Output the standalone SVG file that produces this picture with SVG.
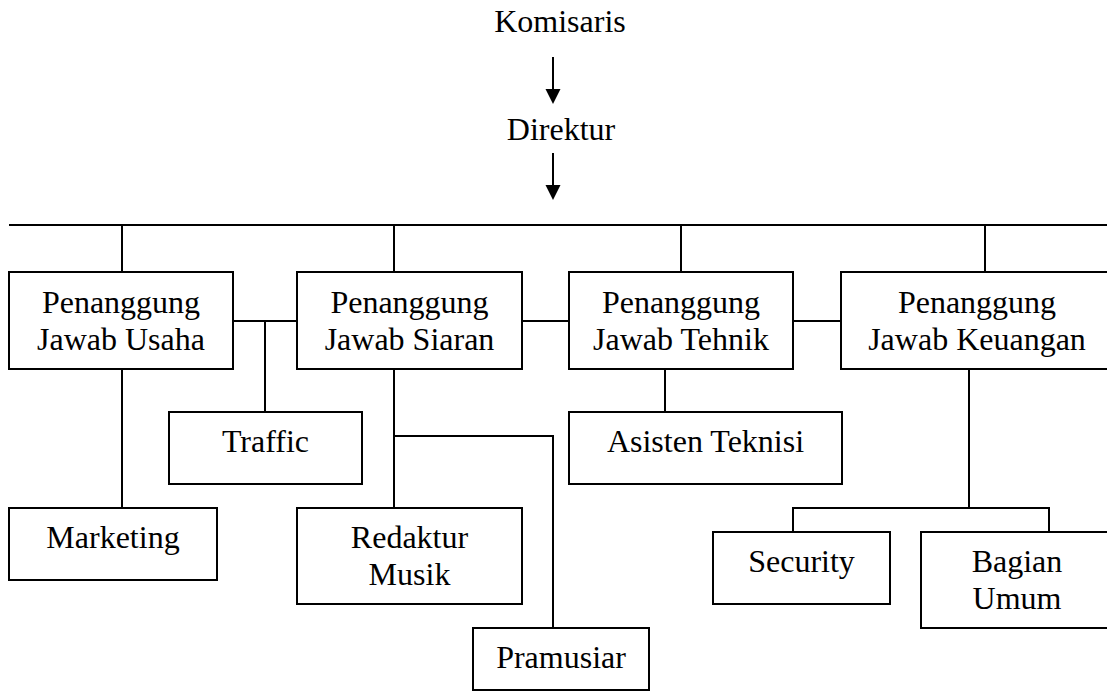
<svg xmlns="http://www.w3.org/2000/svg" width="1107" height="698" viewBox="0 0 1107 698">
<style>
.box{fill:#fff;stroke:#000;stroke-width:2}
.ln{fill:none;stroke:#000;stroke-width:2}
.head{fill:#000}
text{font-family:"Liberation Serif","Times New Roman",serif;font-size:32px;fill:#000;text-anchor:middle}
</style>
<rect width="1107" height="698" fill="#fff"/>
<g id="connectors">
<line class="ln" x1="553" y1="57" x2="553" y2="89"/>
<path class="head" d="M545.5,89 L560.5,89 L553,104 Z"/>
<line class="ln" x1="553" y1="153" x2="553" y2="185"/>
<path class="head" d="M545.5,185 L560.5,185 L553,200 Z"/>
<line class="ln" x1="9" y1="225" x2="1107" y2="225"/>
<line class="ln" x1="122" y1="225" x2="122" y2="272"/>
<line class="ln" x1="394" y1="225" x2="394" y2="272"/>
<line class="ln" x1="681" y1="225" x2="681" y2="272"/>
<line class="ln" x1="985" y1="225" x2="985" y2="272"/>
<line class="ln" x1="233" y1="321" x2="297" y2="321"/>
<line class="ln" x1="522" y1="321" x2="569" y2="321"/>
<line class="ln" x1="793" y1="321" x2="841" y2="321"/>
<line class="ln" x1="265" y1="321" x2="265" y2="412"/>
<line class="ln" x1="122" y1="369" x2="122" y2="508"/>
<line class="ln" x1="394" y1="369" x2="394" y2="508"/>
<polyline class="ln" points="394,436 553,436 553,628"/>
<line class="ln" x1="665" y1="363" x2="665" y2="412"/>
<line class="ln" x1="969" y1="363" x2="969" y2="508"/>
<polyline class="ln" points="793,532 793,508 1049,508 1049,532"/>
</g>
<g id="komisaris"><text x="560" y="32">Komisaris</text></g>
<g id="direktur"><text x="561" y="140">Direktur</text></g>
<g id="pj-usaha"><rect class="box" x="9" y="272" width="224" height="97"/><text x="121" y="313">Penanggung</text><text x="121" y="350">Jawab Usaha</text></g>
<g id="pj-siaran"><rect class="box" x="297" y="272" width="225" height="97"/><text x="409.5" y="313">Penanggung</text><text x="409.5" y="350">Jawab Siaran</text></g>
<g id="pj-tehnik"><rect class="box" x="569" y="272" width="224" height="97"/><text x="681" y="313">Penanggung</text><text x="681" y="350">Jawab Tehnik</text></g>
<g id="pj-keuangan"><rect class="box" x="841" y="272" width="272" height="97"/><text x="977" y="313">Penanggung</text><text x="977" y="350">Jawab Keuangan</text></g>
<g id="traffic"><rect class="box" x="169" y="412" width="193" height="72"/><text x="265.5" y="452">Traffic</text></g>
<g id="asisten-teknisi"><rect class="box" x="569" y="412" width="273" height="72"/><text x="705.5" y="452">Asisten Teknisi</text></g>
<g id="marketing"><rect class="box" x="9" y="508" width="208" height="72"/><text x="113" y="548">Marketing</text></g>
<g id="redaktur-musik"><rect class="box" x="297" y="508" width="225" height="96"/><text x="409.5" y="548">Redaktur</text><text x="409.5" y="585">Musik</text></g>
<g id="security"><rect class="box" x="713" y="532" width="177" height="72"/><text x="801.5" y="572">Security</text></g>
<g id="bagian-umum"><rect class="box" x="921" y="532" width="192" height="96"/><text x="1017" y="572">Bagian</text><text x="1017" y="609">Umum</text></g>
<g id="pramusiar"><rect class="box" x="473" y="628" width="176" height="62"/><text x="561" y="668">Pramusiar</text></g>
</svg>
